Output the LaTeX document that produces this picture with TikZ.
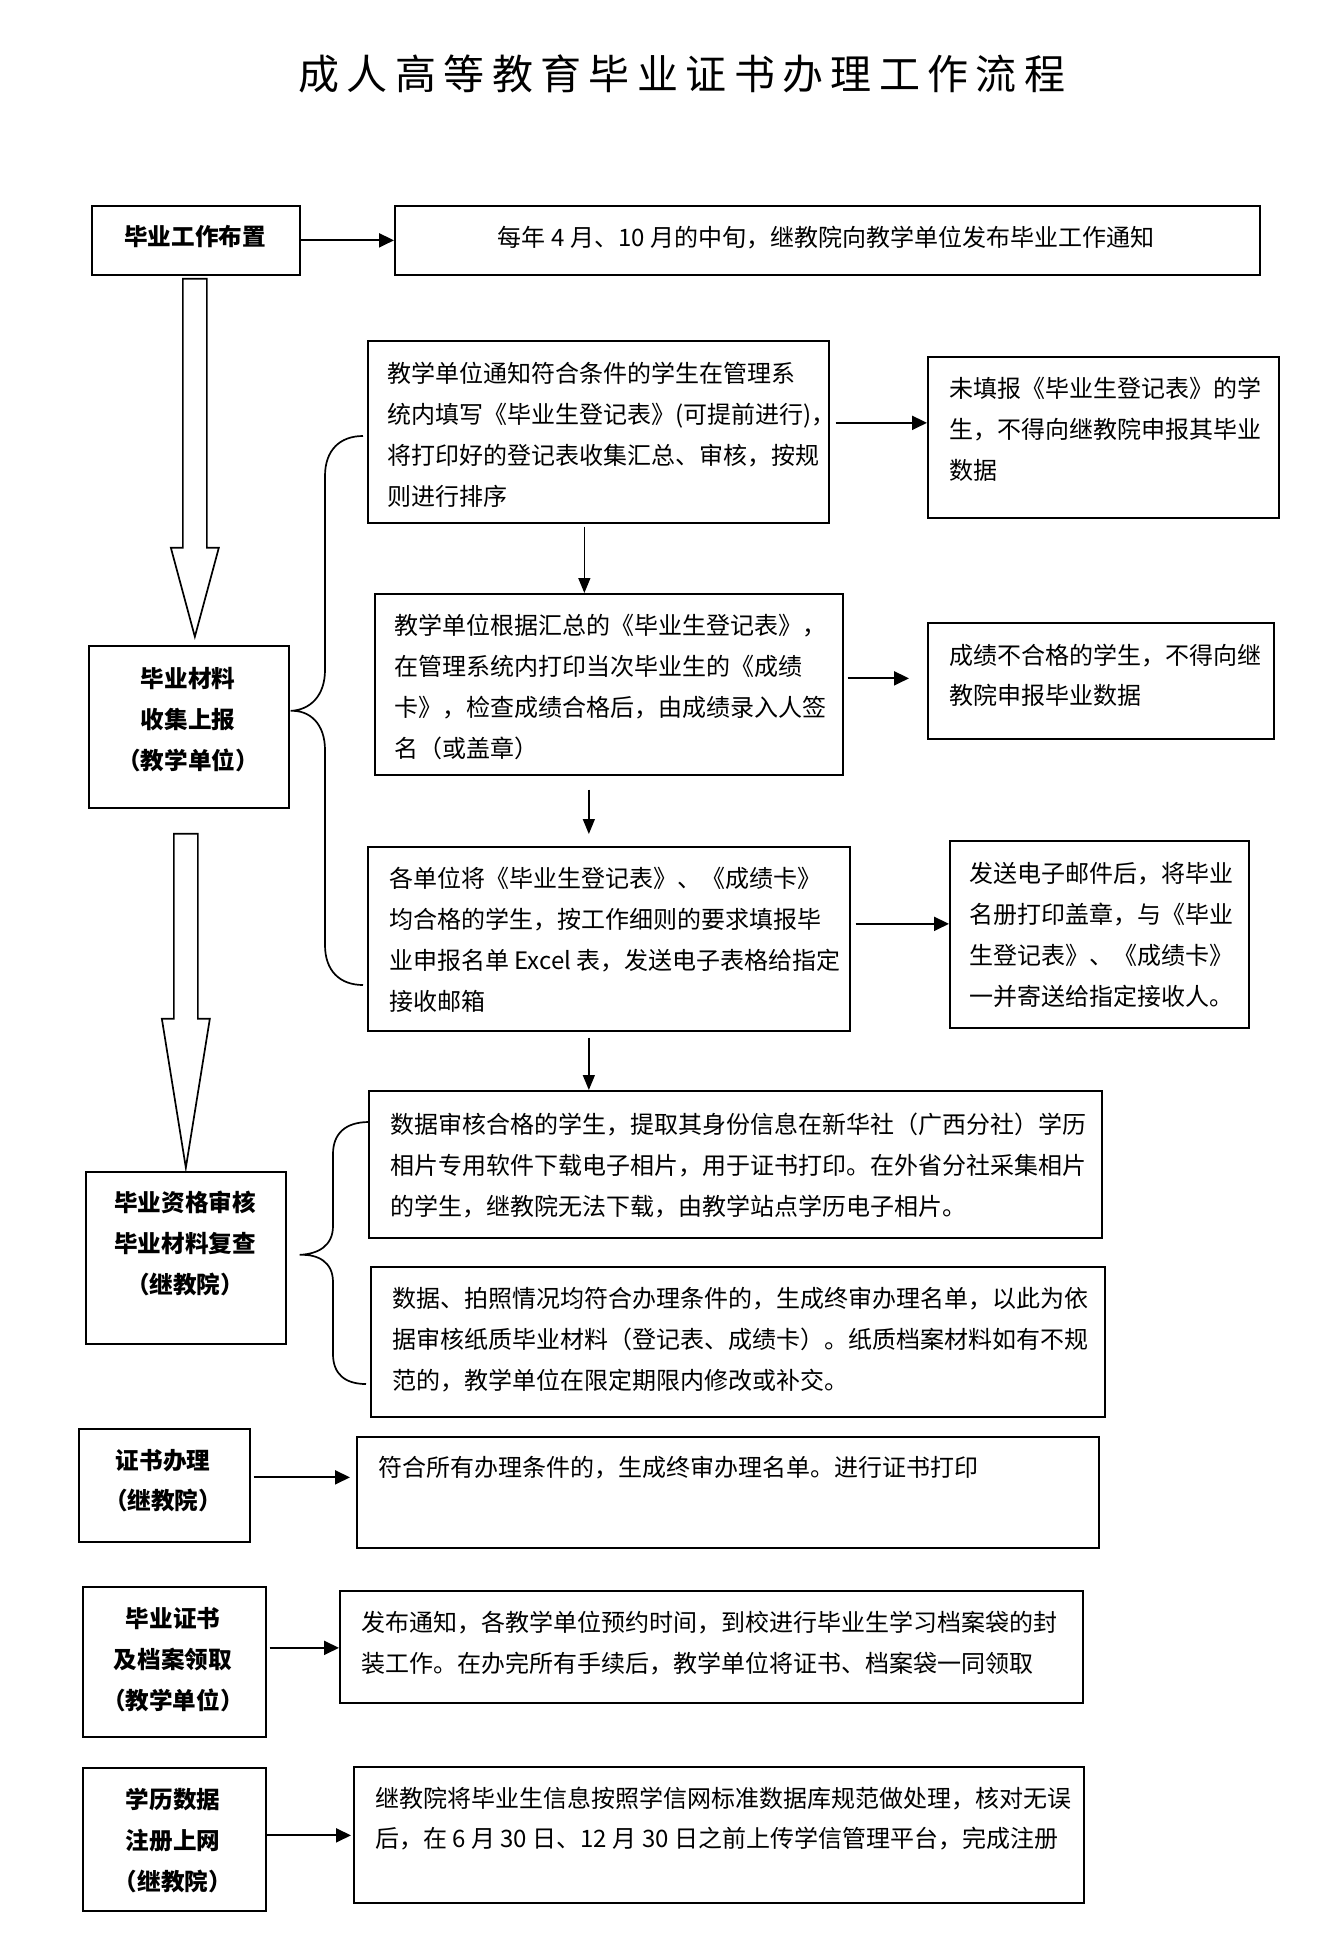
\documentclass[tikz,border=0pt]{standalone}
\usepackage{fontspec}
\setmainfont{Noto Sans CJK SC}
\usetikzlibrary{arrows.meta,calc}
\tikzset{
 box/.style={draw, line width=1.7pt, inner sep=0pt, anchor=north west},
 arr/.style={line width=2pt, -{Triangle[length=15pt,width=14pt]}},
 varr/.style={line width=1.4pt, -{Triangle[length=15pt,width=12pt]}},
 txt/.style={anchor=base west, inner sep=0pt, font=\fontsize{24}{41}\selectfont},
 ctxt/.style={anchor=base, inner sep=0pt, font=\fontsize{24}{41}\selectfont},
 ltxt/.style={anchor=base, inner sep=0pt, font=\fontsize{23.6}{41}\selectfont\bfseries},
 bracestyle/.style={line width=1.7pt},
 hollow/.style={line width=1.7pt, line join=miter},
}
\newcommand\bx[5]{\node[box, minimum width={(#4-#2)*1pt}, minimum height={(#5-#3)*1pt}] (#1) at (#2,#3) {};}
\newcommand\pl[1]{\parbox[t]{900pt}{\raggedright #1}}
\newcommand\pc[1]{\parbox[t]{300pt}{\centering #1}}
\begin{document}
\begin{tikzpicture}[x=1pt,y=-1pt]
\useasboundingbox (0,0) rectangle (1326,1935);
\fill[white] (0,0) rectangle (1326,1935);

\node[anchor=base,inner sep=0pt,font=\fontsize{41}{48}\selectfont] (title) at (682,89) {\addfontfeature{LetterSpace=18}成人高等教育毕业证书办理工作流程};

\bx{A}{91}{205}{299}{274}
\bx{B}{394}{205}{1259}{274}
\bx{C}{367}{340}{828}{522}
\bx{D}{927}{356}{1278}{517}
\bx{E}{374}{593}{842}{774}
\bx{F}{927}{622}{1273}{738}
\bx{G}{367}{846}{849}{1030}
\bx{H}{949}{840}{1248}{1027}
\bx{J}{88}{645}{288}{807}
\bx{K}{85}{1171}{285}{1343}
\bx{I}{368}{1090}{1101}{1237}
\bx{L}{370}{1266}{1104}{1416}
\bx{M}{78}{1428}{249}{1541}
\bx{N}{356}{1436}{1098}{1547}
\bx{O}{82}{1586}{265}{1736}
\bx{P}{339}{1590}{1082}{1702}
\bx{Q}{82}{1767}{265}{1910}
\bx{R}{353}{1766}{1083}{1902}

% left column texts
\node[ltxt] (tA) at (195,245) {毕业工作布置};
\node[ltxt] (tJ) at (188,687) {\pc{毕业材料\\收集上报\\（教学单位）}};
\node[ltxt] (tK) at (185,1211) {\pc{毕业资格审核\\毕业材料复查\\（继教院）}};
\node[ltxt] (tM) at (163,1469) {\pc{证书办理\\[-1pt]（继教院）}};
\node[ltxt] (tO) at (173,1627) {\pc{毕业证书\\及档案领取\\（教学单位）}};
\node[ltxt] (tQ) at (173,1808) {\pc{学历数据\\注册上网\\（继教院）}};

% right texts
\node[ctxt] (tB) at (826,246) {每年 4 月、10 月的中旬，继教院向教学单位发布毕业工作通知};
\node[txt] (tC) at (387,382) {\pl{教学单位通知符合条件的学生在管理系\\统内填写《毕业生登记表》(可提前进行)，\\将打印好的登记表收集汇总、审核，按规\\则进行排序}};
\node[txt] (tD) at (949,397) {\pl{未填报《毕业生登记表》的学\\生，不得向继教院申报其毕业\\数据}};
\node[txt] (tE) at (394,634) {\pl{教学单位根据汇总的《毕业生登记表》，\\在管理系统内打印当次毕业生的《成绩\\卡》，检查成绩合格后，由成绩录入人签\\名（或盖章）}};
\node[txt] (tF) at (949,664) {\pl{成绩不合格的学生，不得向继\\[-1pt]教院申报毕业数据}};
\node[txt] (tG) at (389,887) {\pl{各单位将《毕业生登记表》、《成绩卡》\\均合格的学生，按工作细则的要求填报毕\\业申报名单 Excel 表，发送电子表格给指定\\接收邮箱}};
\node[txt] (tH) at (969,882) {\pl{发送电子邮件后，将毕业\\名册打印盖章，与《毕业\\生登记表》、《成绩卡》\\一并寄送给指定接收人。}};
\node[txt] (tI) at (390,1133) {\pl{数据审核合格的学生，提取其身份信息在新华社（广西分社）学历\\相片专用软件下载电子相片，用于证书打印。在外省分社采集相片\\的学生，继教院无法下载，由教学站点学历电子相片。}};
\node[txt] (tL) at (392,1307) {\pl{数据、拍照情况均符合办理条件的，生成终审办理名单，以此为依\\据审核纸质毕业材料（登记表、成绩卡）。纸质档案材料如有不规\\范的，教学单位在限定期限内修改或补交。}};
\node[txt] (tN) at (378,1476) {符合所有办理条件的，生成终审办理名单。进行证书打印};
\node[txt] (tP) at (361,1631) {\pl{发布通知，各教学单位预约时间，到校进行毕业生学习档案袋的封\\装工作。在办完所有手续后，教学单位将证书、档案袋一同领取}};
\node[txt] (tR) at (375,1807) {\pl{继教院将毕业生信息按照学信网标准数据库规范做处理，核对无误\\[-1pt]后，在 6 月 30 日、12 月 30 日之前上传学信管理平台，完成注册}};

% arrows
\draw[arr] (A.east) -- (B.west);
\coordinate (cd) at ([xshift=6pt,yshift=9pt]C.east);
\draw[arr] (cd) -- (cd -| D.west);
\draw[varr] ([xshift=-14pt,yshift=-3pt]C.south) -- ([xshift=-14pt]C.south |- E.north);
\coordinate (ef) at ([xshift=4pt,yshift=6pt]E.east);
\draw[arr] (ef) -- ([xshift=-18pt]ef -| F.west);
\coordinate (eg) at ([xshift=-20pt,yshift=-14pt]E.south);
\draw[varr] (eg) -- ([yshift=12pt]eg |- G.north);
\coordinate (gh) at ([xshift=5pt,yshift=15pt]G.east);
\draw[arr] (gh) -- (gh -| H.west);
\coordinate (gi) at ([xshift=-20pt,yshift=-6pt]G.south);
\draw[varr] (gi) -- (gi |- I.north);
\coordinate (mn) at ([xshift=3pt,yshift=8pt]M.east);
\draw[arr] (mn) -- ([xshift=-6pt]mn -| N.west);
\coordinate (op) at ([xshift=3pt,yshift=14pt]O.east);
\draw[arr] (op) -- (op -| P.west);
\coordinate (qr) at ([yshift=4pt]Q.east);
\draw[arr] (qr) -- ([xshift=-2pt]qr -| R.west);

% hollow arrows
\coordinate (h1) at ([xshift=-1pt,yshift=-3pt]A.south);
\draw[hollow] (h1) ++(-12,0) -- ++(24,0) -- ++(0,269) -- ++(12,0) -- ++(-24,89) -- ++(-24,-89) -- ++(12,0) -- cycle;
\coordinate (h2) at ([xshift=-3pt,yshift=-25pt]J.south);
\draw[hollow] (h2) ++(-12,0) -- ++(24,0) -- ++(0,185) -- ++(12,0) -- ++(-24,149) -- ++(-24,-149) -- ++(12,0) -- cycle;

% braces
\coordinate (b1) at ([xshift=1pt,yshift=16pt]J.east);
\draw[bracestyle] (363,436) .. controls (340,436) and (325,450) .. (325,476) -- (325,670) .. controls (325,696) and (310,710) .. (b1) .. controls (310,710) and (325,724) .. (325,750) -- (325,945) .. controls (325,971) and (340,985) .. (363,985);
\coordinate (b2) at ([xshift=13pt,yshift=3pt]K.east);
\draw[bracestyle] (369,1122) .. controls (345,1122) and (333,1134) .. (333,1154) -- (333,1226) .. controls (333,1246) and (318,1254) .. (b2) .. controls (318,1254) and (333,1262) .. (333,1282) -- (333,1354) .. controls (333,1374) and (345,1384) .. (366,1384);
\end{tikzpicture}
\end{document}
